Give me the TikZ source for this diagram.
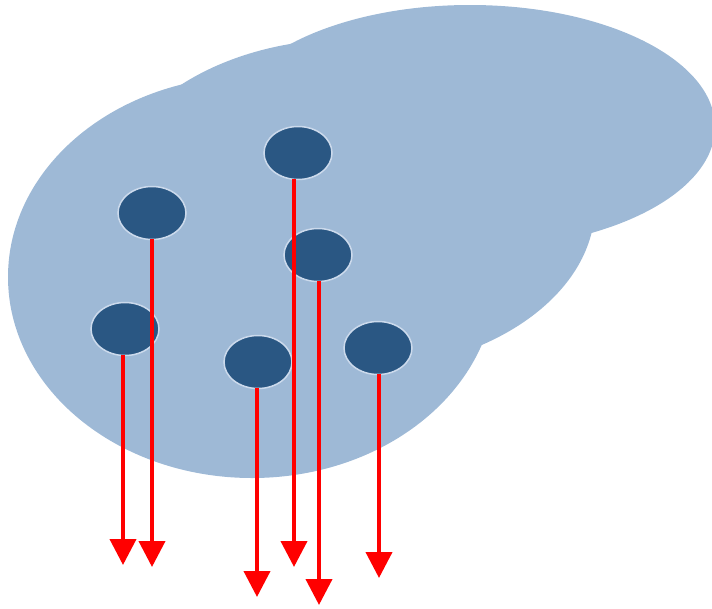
\documentclass[tikz,border=0pt]{standalone}
\usetikzlibrary{arrows.meta,shapes.geometric}
\definecolor{cloudblue}{HTML}{9EB9D6}
\definecolor{dotblue}{HTML}{2A5783}
\definecolor{dotrim}{HTML}{CCDAEC}
\definecolor{arrowred}{HTML}{FF0000}
\tikzset{
  cloud/.style={fill=cloudblue, draw=none},
  dot/.style={ellipse, fill=dotblue, draw=dotrim, line width=1.5pt,
    minimum width=68pt, minimum height=53pt, inner sep=0pt},
  drop/.style={draw=arrowred, line width=4pt,
    -{Triangle[width=26pt,length=26pt]}, arrowred, shorten <=-1pt}
}
\begin{document}
\begin{tikzpicture}[x=1pt,y=-1pt]
  \useasboundingbox (0,0) rectangle (712,608);
  % background cloud made of three overlapping ellipses
  \fill[cloud] (470,127) ellipse [x radius=245, y radius=122];
  \fill[cloud] (350,205) ellipse [x radius=245, y radius=166];
  \fill[cloud] (252,277) ellipse [x radius=244, y radius=201];
  % dots
  \node[dot] (a) at (152,213) {};
  \node[dot] (b) at (298,153) {};
  \node[dot] (c) at (125,329) {};
  \node[dot] (d) at (318,255) {};
  \node[dot] (e) at (258,362) {};
  \node[dot] (f) at (378,348) {};
  % arrow ends
  \coordinate (ta) at (152,567);
  \coordinate (tb) at (294,567);
  \coordinate (tc) at (123,565);
  \coordinate (td) at (319,605);
  \coordinate (te) at (257,597);
  \coordinate (tf) at (379,578);
  % arrows
  \draw[drop] (a.south -| ta) -- (ta);
  \draw[drop] (b.south -| tb) -- (tb);
  \draw[drop] (c.south -| tc) -- (tc);
  \draw[drop] (d.south -| td) -- (td);
  \draw[drop] (e.south -| te) -- (te);
  \draw[drop] (f.south -| tf) -- (tf);
\end{tikzpicture}
\end{document}
